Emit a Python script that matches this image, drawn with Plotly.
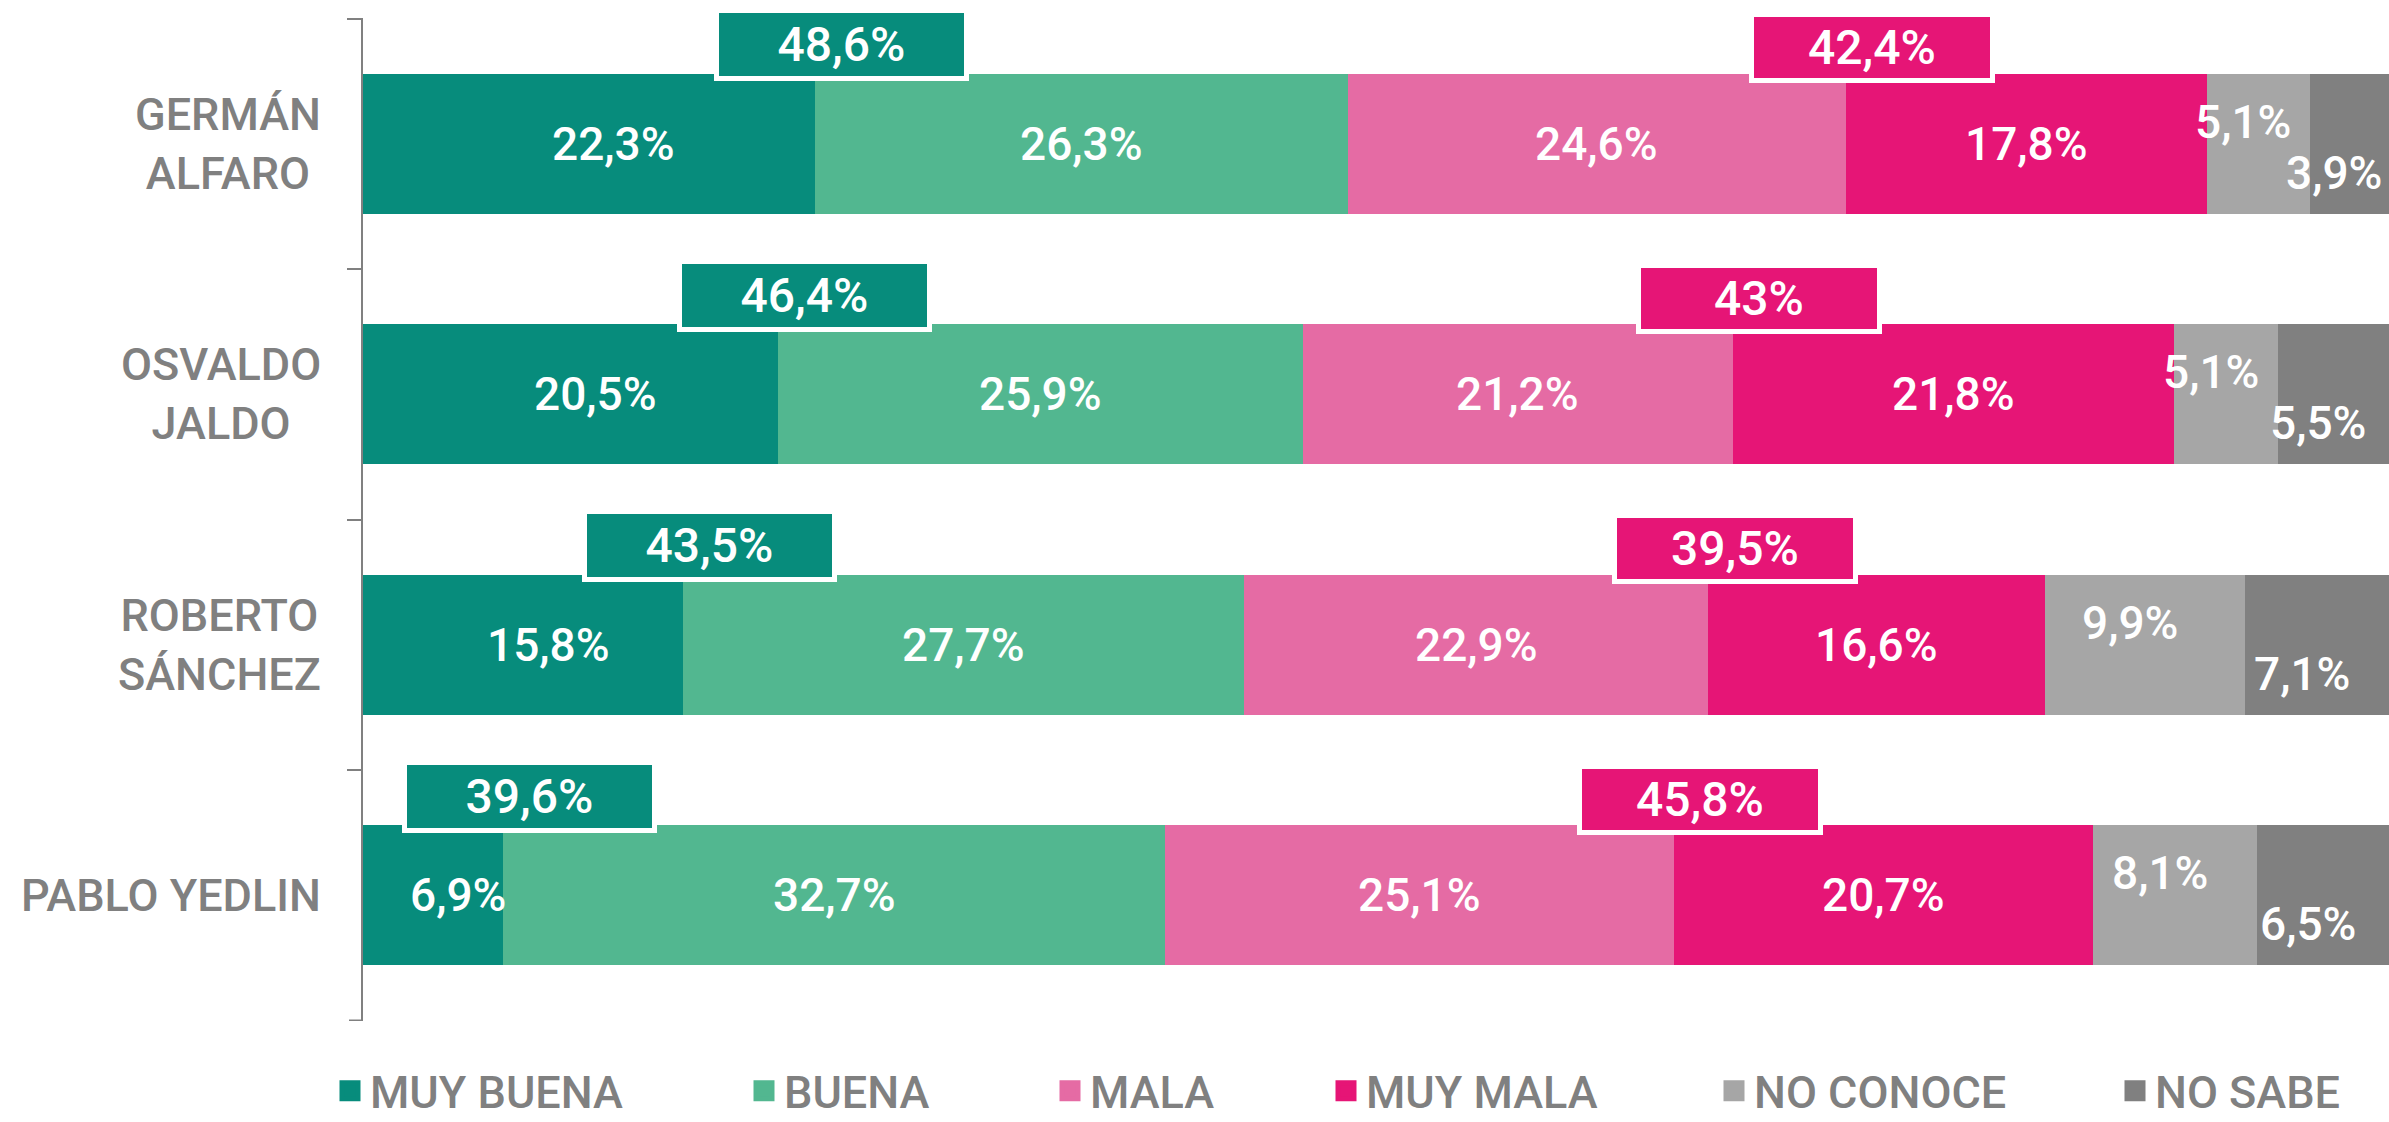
import plotly.graph_objects as go

# ---------------- data ----------------
candidates = ["GERMÁN ALFARO", "OSVALDO JALDO", "ROBERTO SÁNCHEZ", "PABLO YEDLIN"]
candidate_labels = ["GERMÁN<br>ALFARO", "OSVALDO<br>JALDO", "ROBERTO<br>SÁNCHEZ", "PABLO YEDLIN"]
series_names = ["MUY BUENA", "BUENA", "MALA", "MUY MALA", "NO CONOCE", "NO SABE"]
muy_buena = [22.3, 20.5, 15.8, 6.9]
buena = [26.3, 25.9, 27.7, 32.7]
mala = [24.6, 21.2, 22.9, 25.1]
muy_mala = [17.8, 21.8, 16.6, 20.7]
no_conoce = [5.1, 5.1, 9.9, 8.1]
no_sabe = [3.9, 5.5, 7.1, 6.5]
series_values = [muy_buena, buena, mala, muy_mala, no_conoce, no_sabe]

# ---------------- style ----------------
colors = ["#078C7C", "#52B790", "#E56BA4", "#E61576", "#A6A6A6", "#808080"]
FONT = "Roboto"
GRAY = "#808080"
W, H = 2389, 1122
ML, MR, MT, MB = 363, 0, 18, 101
label_shift = {  # (xshift, yshift) in px per series
    0: (25, 0), 1: (0, 0), 2: (0, 0), 3: (0, 0), 4: (-15, 22), 5: (-15, -29)}
legend_text_px = [370, 784, 1090, 1366, 1754, 2155]
legend_center_px = 1091


def fmt(v):
    s = f"{round(v, 1):.1f}".replace(".", ",")
    if s.endswith(",0"):
        s = s[:-2]
    return s + "%"


fig = go.Figure()
plot_w = W - ML - MR
plot_h = H - MT - MB

for i, (name, vals) in enumerate(zip(series_names, series_values)):
    fig.add_trace(go.Bar(
        y=candidates, x=vals, orientation="h", name=name,
        marker=dict(color=colors[i], line=dict(width=0)),
        showlegend=False, hoverinfo="skip"))

# legend entries (square swatches), each in its own legend for positioning
for i, name in enumerate(series_names):
    lg = "legend" if i == 0 else f"legend{i+1}"
    fig.add_trace(go.Scatter(
        x=[None], y=[None], mode="markers", name=name, legend=lg,
        marker=dict(symbol="square", size=16, color=colors[i],
                    line=dict(width=5, color=colors[i])),
        showlegend=True))

annotations = []
# segment labels
for j, cand in enumerate(candidates):
    cum = 0.0
    for i, vals in enumerate(series_values):
        v = vals[j]
        xs, ys = label_shift[i]
        annotations.append(dict(
            x=cum + v / 2, y=cand, xref="x", yref="y", text=fmt(v),
            showarrow=False, xshift=xs, yshift=ys,
            font=dict(family=FONT, size=46, color="white", weight=500)))
        cum += v

# summary boxes
for j, cand in enumerate(candidates):
    pos = muy_buena[j] + buena[j]
    neg = mala[j] + muy_mala[j]
    annotations.append(dict(
        x=muy_buena[j] + 1.3, y=cand, xref="x", yref="y", text=fmt(pos),
        showarrow=False, yshift=99, width=245, height=63,
        bgcolor=colors[0], bordercolor="white", borderwidth=5, borderpad=0,
        font=dict(family=FONT, size=48, color="white", weight=500)))
    annotations.append(dict(
        x=pos + mala[j] + 1.3, y=cand, xref="x", yref="y", text=fmt(neg),
        showarrow=False, yshift=96, width=236, height=61,
        bgcolor=colors[3], bordercolor="white", borderwidth=5, borderpad=0,
        font=dict(family=FONT, size=48, color="white", weight=500)))

# category labels
for j, cand in enumerate(candidates):
    annotations.append(dict(
        x=0, y=cand, xref="paper", yref="y", text=candidate_labels[j],
        showarrow=False, xanchor="right", align="center", xshift=-40,
        font=dict(family=FONT, size=45, color=GRAY, weight=500)))

legends = {}
for i in range(len(series_names)):
    key = "legend" if i == 0 else f"legend{i+1}"
    legends[key] = dict(
        x=(legend_text_px[i] - 40 - ML) / plot_w, xanchor="left",
        y=-(legend_center_px - (H - MB)) / plot_h, yanchor="middle",
        orientation="h",
        font=dict(family=FONT, size=45, color=GRAY, weight=500),
        bgcolor="rgba(0,0,0,0)", borderwidth=0)

# closing tick at the bottom boundary of the category axis
shapes = [dict(type="line", xref="paper", xsizemode="pixel", xanchor=0,
               x0=-14, x1=0, yref="y", y0=len(candidates) - 0.5,
               y1=len(candidates) - 0.5, line=dict(color=GRAY, width=2))]

fig.update_layout(
    width=W, height=H, autosize=False,
    margin=dict(l=ML, r=MR, t=MT, b=MB, pad=0, autoexpand=False),
    paper_bgcolor="white", plot_bgcolor="white",
    barmode="stack", bargap=0.442,
    xaxis=dict(range=[0, 100], visible=False, fixedrange=True),
    yaxis=dict(type="category", range=[3.502, -0.502], showticklabels=False,
               ticks="outside", tickson="boundaries", ticklen=14, tickwidth=2,
               tickcolor=GRAY, showline=True, linecolor=GRAY, linewidth=2,
               showgrid=False, zeroline=False, fixedrange=True),
    annotations=annotations,
    shapes=shapes,
    **legends,
)

fig.write_html("out.html", config={"displayModeBar": False},
               post_script="document.body.style.margin='0';document.body.style.overflow='hidden';")
